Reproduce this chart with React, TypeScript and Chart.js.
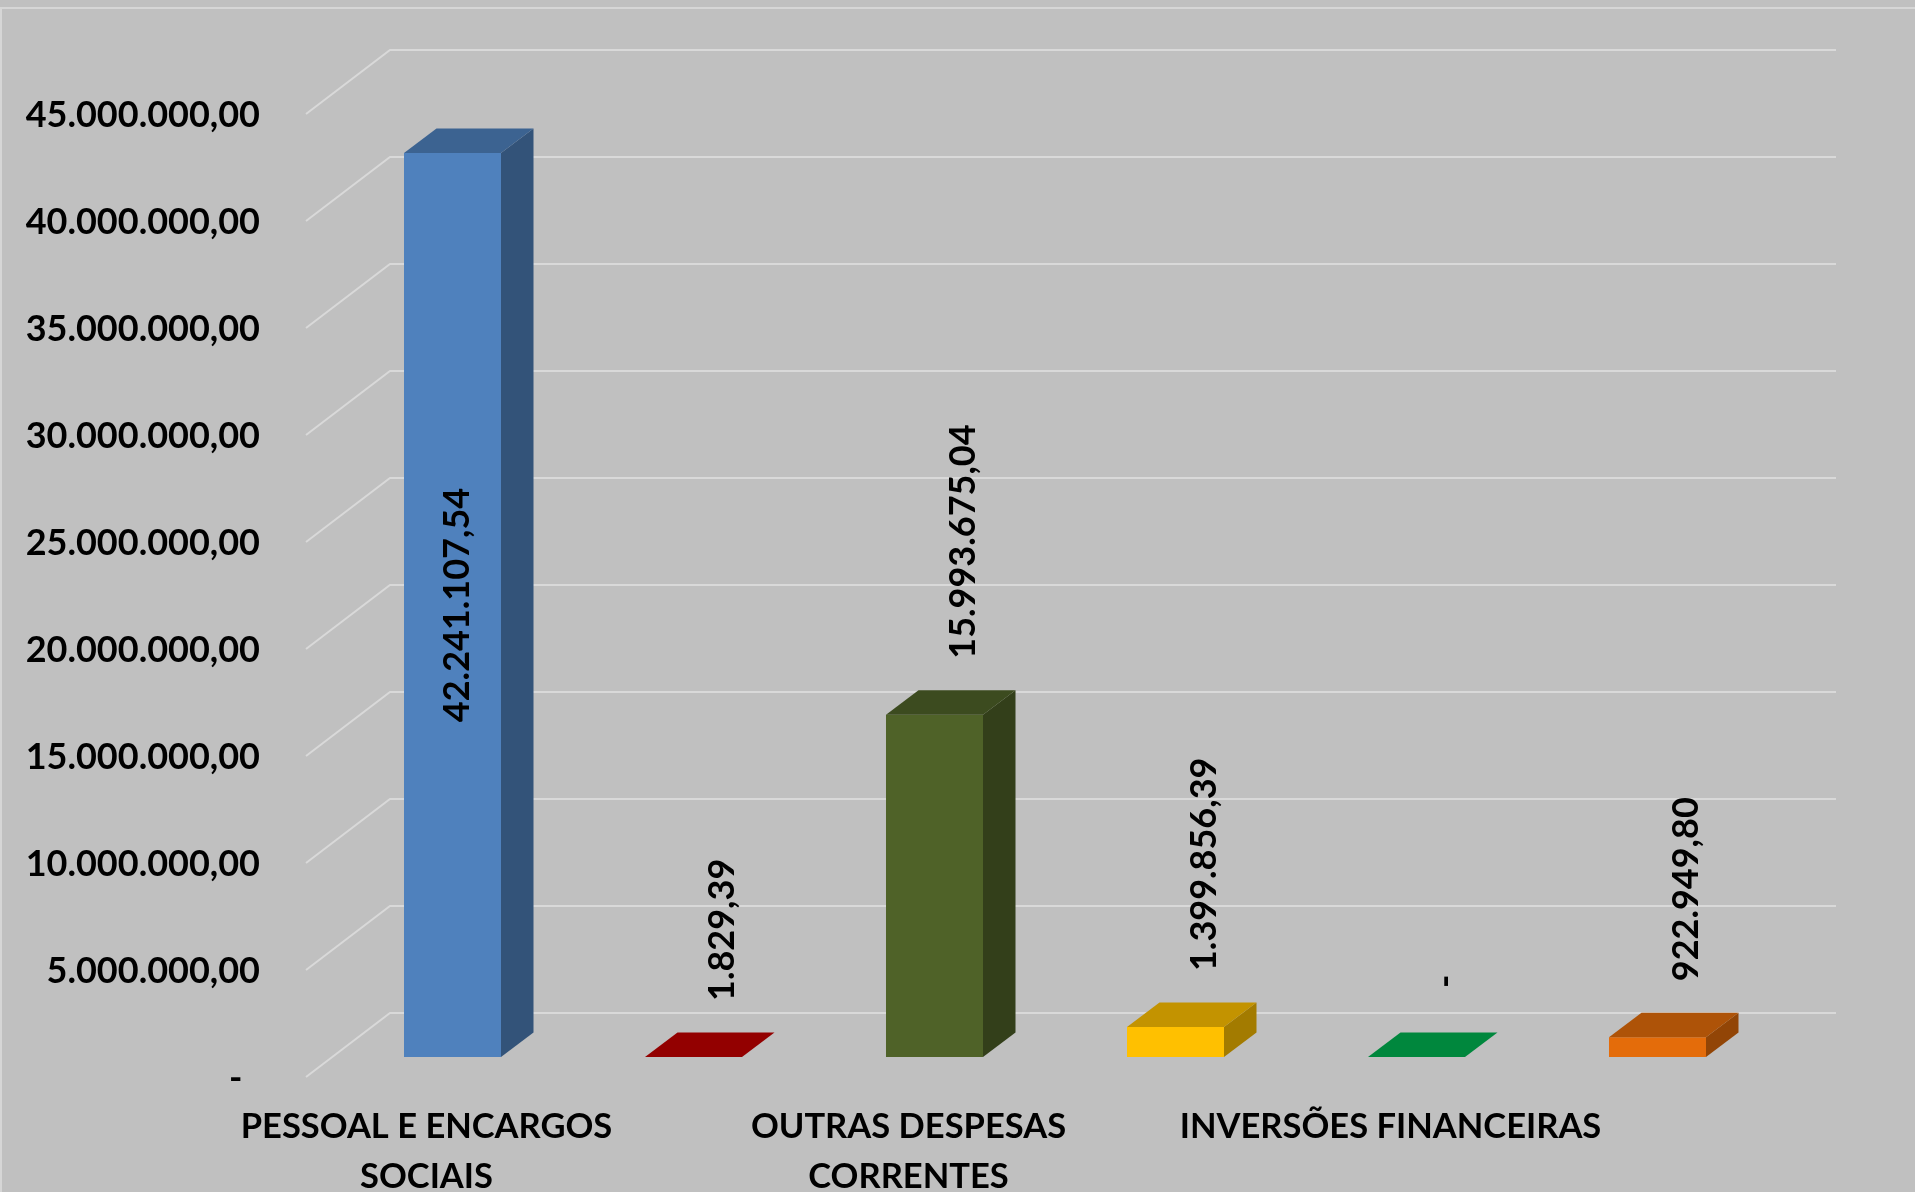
import React, { useEffect, useRef } from 'react';
import { Chart, registerables } from 'chart.js';

Chart.register(...registerables);

// ---------- data ----------
const categories: string[][] = [
  ['PESSOAL E ENCARGOS', 'SOCIAIS'],
  ['JUROS E ENCARGOS DA DÍVIDA'],
  ['OUTRAS DESPESAS', 'CORRENTES'],
  ['INVESTIMENTOS'],
  ['INVERSÕES FINANCEIRAS'],
  ['AMORTIZAÇÃO DA DÍVIDA'],
];
const shownCategoryLabels = [true, false, true, false, true, false];
const values = [42241107.54, 1829.39, 15993675.04, 1399856.39, 0, 922949.8];
const barColors = ['#4F81BD', '#C00000', '#4F6228', '#FFC000', '#00B050', '#E46C0A'];
const yMin = 0;
const yMax = 45000000;
const yStep = 5000000;

// ---------- helpers ----------
const FONT = 'Lato, "Open Sans", sans-serif';
const W = 1915;
const H = 1192;

function fmtBR(v: number): string {
  if (v === 0) return '-';
  const s = Math.abs(v).toFixed(2);
  const [ip, dp] = s.split('.');
  const withDots = ip.replace(/\B(?=(\d{3})+(?!\d))/g, '.');
  return (v < 0 ? '-' : '') + withDots + ',' + dp;
}

function shade(hex: string, f: number): string {
  const n = parseInt(hex.slice(1), 16);
  const r = Math.round(((n >> 16) & 255) * f);
  const g = Math.round(((n >> 8) & 255) * f);
  const b = Math.round((n & 255) * f);
  return `rgb(${r},${g},${b})`;
}

// 3D projection offsets (relative to the bar plane)
const BAR_DX = 32.5;
const BAR_DY = 24.5;
const FRONT_DX = -26;
const FRONT_DY = 20;
const BACK_DX = 58;
const BACK_DY = -44;

const backgroundPlugin = {
  id: 'bg3d',
  beforeDraw(chart: any) {
    const { ctx } = chart;
    const w = chart.width;
    const h = chart.height;
    ctx.save();
    ctx.fillStyle = '#C0C0C0';
    ctx.fillRect(0, 0, w, h);
    ctx.strokeStyle = '#D6D6D6';
    ctx.lineWidth = 2;
    ctx.beginPath();
    ctx.moveTo(1, h);
    ctx.lineTo(1, 8);
    ctx.lineTo(w, 8);
    ctx.stroke();
    ctx.restore();
  },
  beforeDatasetsDraw(chart: any) {
    const { ctx, chartArea } = chart;
    const ys = chart.scales.y;
    ctx.save();
    ctx.strokeStyle = '#D9D9D9';
    ctx.lineWidth = 2;
    ys.ticks.forEach((t: any) => {
      const p = ys.getPixelForValue(t.value);
      ctx.beginPath();
      ctx.moveTo(chartArea.left + FRONT_DX, p + FRONT_DY);
      ctx.lineTo(chartArea.left + BACK_DX, p + BACK_DY);
      ctx.lineTo(chartArea.right + BACK_DX, p + BACK_DY);
      ctx.stroke();
    });
    ctx.restore();
  },
  afterDatasetsDraw(chart: any) {
    const { ctx } = chart;
    const meta = chart.getDatasetMeta(0);
    ctx.save();
    meta.data.forEach((bar: any, i: number) => {
      const { x, y, base, width } = bar.getProps(['x', 'y', 'base', 'width'], true);
      const l = x - width / 2;
      const r = x + width / 2;
      const c = barColors[i];
      if (base - y > 0.5) {
        ctx.fillStyle = shade(c, 0.64);
        ctx.beginPath();
        ctx.moveTo(r, y);
        ctx.lineTo(r + BAR_DX, y - BAR_DY);
        ctx.lineTo(r + BAR_DX, base - BAR_DY);
        ctx.lineTo(r, base);
        ctx.closePath();
        ctx.fill();
      }
      ctx.fillStyle = shade(c, 0.765);
      ctx.beginPath();
      ctx.moveTo(l, y);
      ctx.lineTo(r, y);
      ctx.lineTo(r + BAR_DX, y - BAR_DY);
      ctx.lineTo(l + BAR_DX, y - BAR_DY);
      ctx.closePath();
      ctx.fill();
    });

    // data labels (rotated)
    ctx.fillStyle = '#000';
    ctx.font = `bold 36px ${FONT}`;
    ctx.textBaseline = 'middle';
    meta.data.forEach((bar: any, i: number) => {
      const { x, y, base } = bar.getProps(['x', 'y', 'base'], true);
      const text = fmtBR(values[i]);
      const tw = ctx.measureText(text).width;
      ctx.save();
      if (base - y > tw * 2.5) {
        ctx.translate(x + 5, (y + base) / 2);
        ctx.rotate(-Math.PI / 2);
        ctx.textAlign = 'center';
      } else {
        const gap = values[i] === 0 ? 69 : 56;
        ctx.translate(x + 29, y - gap);
        ctx.rotate(-Math.PI / 2);
        ctx.textAlign = 'left';
      }
      ctx.fillText(text, 0, 0);
      ctx.restore();
    });
    ctx.restore();
  },
};

export default function App() {
  const ref = useRef<HTMLCanvasElement | null>(null);

  useEffect(() => {
    if (!ref.current) return;
    const chart = new Chart(ref.current, {
      type: 'bar',
      data: {
        labels: categories,
        datasets: [
          {
            data: values,
            backgroundColor: barColors,
            borderWidth: 0,
            barPercentage: 0.4025,
            categoryPercentage: 1,
          },
        ],
      },
      options: {
        responsive: false,
        animation: false,
        devicePixelRatio: 1,
        layout: { padding: { top: 94, right: 137, left: 0, bottom: 0 } },
        plugins: {
          legend: { display: false },
          tooltip: { enabled: false },
          title: { display: false },
        },
        scales: {
          x: {
            grid: { display: false, drawTicks: false },
            border: { display: false },
            ticks: {
              autoSkip: false,
              maxRotation: 0,
              minRotation: 0,
              padding: 45,
              labelOffset: -26,
              color: '#000',
              font: { family: FONT, weight: 'bold', size: 34.5, lineHeight: 50 / 34.5 },
              callback: (_v: any, i: number) => (shownCategoryLabels[i] ? categories[i] : ''),
            },
            afterFit: (s: any) => {
              s.height = 135;
            },
          },
          y: {
            min: yMin,
            max: yMax,
            grid: { display: false, drawTicks: false },
            border: { display: false },
            ticks: {
              stepSize: yStep,
              padding: 72,
              labelOffset: 21,
              color: '#000',
              font: { family: FONT, weight: 'bold', size: 36 },
              callback: (v: any) => (Number(v) === 0 ? '-  ' : fmtBR(Number(v))),
            },
            afterFit: (s: any) => {
              s.width = 332;
            },
          },
        },
      },
      plugins: [backgroundPlugin],
    } as any);
    return () => chart.destroy();
  }, []);

  return (
    <div style={{ position: 'fixed', left: 0, top: 0, width: W, height: H, background: '#C0C0C0' }}>
      <canvas ref={ref} width={W} height={H} style={{ display: 'block', width: W, height: H }} />
    </div>
  );
}
